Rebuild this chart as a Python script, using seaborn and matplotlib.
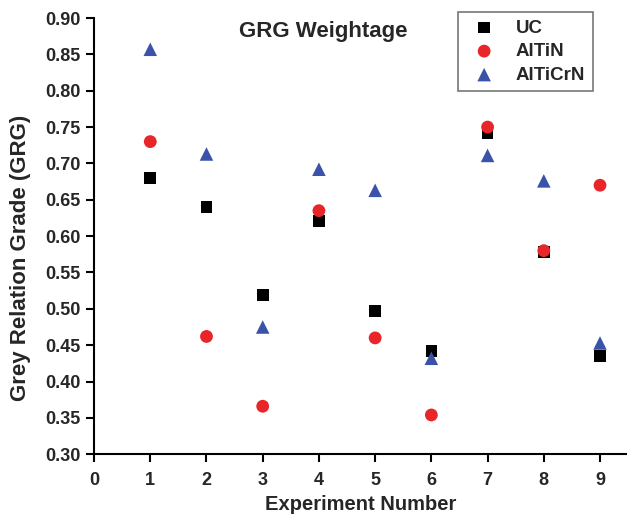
import numpy as np
import pandas as pd
import matplotlib.pyplot as plt
import seaborn as sns

# Data
experiments = [1, 2, 3, 4, 5, 6, 7, 8, 9]
uc = [0.680, 0.640, 0.519, 0.621, 0.497, 0.442, 0.742, 0.578, 0.435]
altin = [0.730, 0.462, 0.366, 0.635, 0.460, 0.354, 0.750, 0.580, 0.670]
alticrn = [0.857, 0.713, 0.475, 0.692, 0.663, 0.432, 0.711, 0.676, 0.453]
series = ['UC', 'AlTiN', 'AlTiCrN']

df = pd.DataFrame({
    'exp': experiments * 3,
    'grg': uc + altin + alticrn,
    'coating': [s for s in series for _ in experiments],
})

sns.set_style('ticks')
plt.rcParams['font.family'] = ['Liberation Sans', 'DejaVu Sans']
plt.rcParams['font.weight'] = 'bold'

fig = plt.figure(figsize=(6.27, 5.15), dpi=100)
ax = fig.add_axes([0.15, 0.118, 0.85, 0.847])

palette = {'UC': 'black', 'AlTiN': '#e8262a', 'AlTiCrN': '#3a52a8'}
markers = {'UC': 's', 'AlTiN': 'o', 'AlTiCrN': '^'}
sizes = {'UC': 70, 'AlTiN': 85, 'AlTiCrN': 95}
for name in series:
    sns.scatterplot(data=df[df['coating'] == name], x='exp', y='grg',
                    color=palette[name], marker=markers[name], s=sizes[name],
                    edgecolor='none', label=name, ax=ax)

ax.set_xlim(0, 9.48)
ax.set_ylim(0.30, 0.90)
ax.set_xticks(range(0, 10))
ax.set_yticks(np.arange(0.30, 0.901, 0.05))
ax.yaxis.set_major_formatter(plt.FormatStrFormatter('%.2f'))
ax.tick_params(labelsize=13, width=1.5, length=6, color='black')
ax.tick_params(axis='x', pad=7)
for lbl in ax.get_xticklabels() + ax.get_yticklabels():
    lbl.set_fontweight('bold')
sns.despine(ax=ax)
for sp in ['left', 'bottom']:
    ax.spines[sp].set_linewidth(1.5)
    ax.spines[sp].set_color('black')

ax.set_xlabel('Experiment Number', fontsize=14.5, fontweight='bold', labelpad=4)
ax.set_ylabel('Grey Relation Grade (GRG)', fontsize=16, fontweight='bold')
ax.yaxis.set_label_coords(-0.118, 0.45)
ax.text(0.43, 0.968, 'GRG Weightage', transform=ax.transAxes, fontsize=16,
        fontweight='bold', ha='center', va='center')

leg = ax.legend(loc='upper right', bbox_to_anchor=(0.936, 1.014), borderaxespad=0,
                frameon=True, fancybox=False, fontsize=13.5, handletextpad=0.7,
                borderpad=0.4, labelspacing=0.34)
leg.get_frame().set_edgecolor('#555555')
leg.get_frame().set_linewidth(1.2)
for t in leg.get_texts():
    t.set_fontweight('bold')

fig.savefig('out.png', dpi=100)
